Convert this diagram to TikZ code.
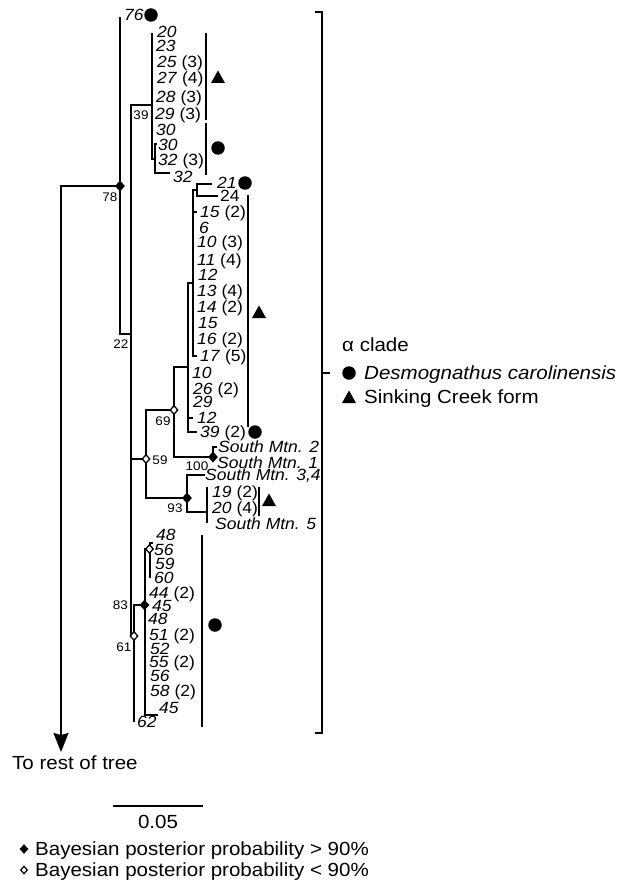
\documentclass[tikz,border=0pt]{standalone}
\usepackage{fontspec}
\setmainfont[FakeStretch=1.08]{Liberation Sans}
\usetikzlibrary{shapes.geometric,arrows.meta}
\tikzset{
  br/.style={line width=2pt, line join=miter},
  barline/.style={line width=2pt},
  tip/.style={font=\fontsize{16.2}{16}\selectfont, inner sep=0pt, anchor=west, text height=11.6pt, text depth=0pt},
  nl/.style={font=\fontsize{12.5}{12}\selectfont, inner sep=0pt, text height=8.95pt, text depth=0pt},
  lg/.style={font=\fontsize{19}{19}\selectfont, inner sep=0pt, anchor=west, text height=13.6pt, text depth=0pt},
  dot/.style={circle, fill, inner sep=0pt, minimum size=13.5pt},
  fdia/.style={diamond, fill, draw, inner sep=0pt, minimum width=9pt, minimum height=10pt, line width=0.6pt},
  odia/.style={diamond, fill=white, draw, inner sep=0pt, minimum width=8pt, minimum height=9pt, line width=1.3pt},
  tri/.pic={\fill (-7,6) -- (7,6) -- (0,-6.5) -- cycle;}
}
\begin{document}
\begin{tikzpicture}[x=1pt,y=-1pt]
\useasboundingbox (0,0) rectangle (617,880);
% internal nodes
\coordinate (root) at (61,186);
\coordinate (rest) at (61,752);
\coordinate (c78) at (120,186);
\coordinate (c22) at (131,334);
\coordinate (c39) at (152,105);
\coordinate (c39b) at (154.5,159);
\coordinate (c59) at (146,459);
\coordinate (c69) at (174,410);
\coordinate (cA) at (188,367);
\coordinate (cB) at (193,283);
\coordinate (cC) at (197,190);
\coordinate (c100) at (213,457);
\coordinate (c93) at (187,498);
\coordinate (cD) at (207,512);
\coordinate (c61) at (134,636);
\coordinate (c83) at (144.5,605);
\coordinate (c56) at (149.5,549);
% branches
\draw[br,-{Stealth[length=19pt,width=15pt,inset=2pt]}] (c78) -- (root) -- (rest);
\draw[br] (120,17) -- (120,334) -- (c22);
\draw[br] (c39) -- (131,105) -- (131,636) -- (c61);
\draw[br] (152,33) -- (152,159) -- (c39b);
\draw[br] (157,144) -- (154.5,144) -- (154.5,173) -- (170,173);
\draw[br] (131,459) -- (c59);
\draw[br] (c69) -- (146,410) -- (146,498) -- (c93);
\draw[br] (cA) -- (174,367) -- (174,457) -- (c100);
\draw[br] (cB) -- (188,283) -- (188,432) -- (197,432);
\draw[br] (188,418) -- (193,418);
\draw[br] (cC) -- (193,190) -- (193,356) -- (197,356);
\draw[br] (193,212) -- (197,212);
\draw[br] (212,184) -- (197,184) -- (197,196) -- (218,196);
\draw[br] (217,447) -- (213,447) -- (213,462);
\draw[br] (205,475) -- (187,475) -- (187,512) -- (cD);
\draw[br] (207,487) -- (207,523);
\draw[br] (c83) -- (134,605) -- (134,722);
\draw[br] (c56) -- (144.5,549) -- (144.5,715) -- (158,715);
\draw[br] (153,543) -- (149.5,543) -- (149.5,578);
% clade bars
\draw[barline] (206,33) -- (206,120);
\draw[barline] (206,123) -- (206,175);
\draw[barline] (248,195) -- (248,427);
\draw[barline] (259,487) -- (259,516);
\draw[barline] (202,535) -- (202,727);
% support diamonds
\node[fdia] (d78) at (c78) {};
\node[fdia] (d100) at (c100) {};
\node[fdia] (d93) at (c93) {};
\node[fdia] (d83) at (c83) {};
\node[odia] (d69) at (c69) {};
\node[odia] (d59) at (c59) {};
\node[odia] (d61) at (c61) {};
\node[odia] (d56) at (c56) {};
% support values
\node[nl] (v39) at (141,115) {39};
\node[nl] (v78) at (110,197) {78};
\node[nl] (v22) at (121,344) {22};
\node[nl] (v69) at (163,421) {69};
\node[nl] (v59) at (160,460) {59};
\node[nl] (v100) at (197,466) {100};
\node[nl] (v93) at (175,508) {93};
\node[nl] (v83) at (120.5,605) {83};
\node[nl] (v61) at (124,647) {61};
% markers
\node[dot] (m1) at (151,15) {};
\pic (m2) at (218,77) {tri};
\node[dot] (m3) at (218,148) {};
\node[dot] (m4) at (245,183) {};
\pic (m5) at (259,312) {tri};
\node[dot] (m6) at (255,432) {};
\pic (m7) at (269,500) {tri};
\node[dot] (m8) at (215,625) {};
% tips
\node[tip] (t1) at (124,15) {\textit{76}};
\node[tip] (t2) at (157,32) {\textit{20}};
\node[tip] (t3) at (156,46) {\textit{23}};
\node[tip] (t4) at (157,62) {\textit{25} (3)};
\node[tip] (t5) at (157,78) {\textit{27} (4)};
\node[tip] (t6) at (156,97) {\textit{28} (3)};
\node[tip] (t7) at (155,114) {\textit{29} (3)};
\node[tip] (t8) at (156,130) {\textit{30}};
\node[tip] (t9) at (158,145) {\textit{30}};
\node[tip] (t10) at (158,160) {\textit{32} (3)};
\node[tip] (t11) at (173,177) {\textit{32}};
\node[tip] (t12) at (217,183) {\textit{21}};
\node[tip] (t13) at (220,196) {24};
\node[tip] (t14) at (200,212) {\textit{15} (2)};
\node[tip] (t15) at (199,228) {\textit{6}};
\node[tip] (t16) at (197,242) {\textit{10} (3)};
\node[tip] (t17) at (197,260) {\textit{11} (4)};
\node[tip] (t18) at (198,275) {\textit{12}};
\node[tip] (t19) at (197,291) {\textit{13} (4)};
\node[tip] (t20) at (197,307) {\textit{14} (2)};
\node[tip] (t21) at (198,323) {\textit{15}};
\node[tip] (t22) at (197,339) {\textit{16} (2)};
\node[tip] (t23) at (200,356) {\textit{17} (5)};
\node[tip] (t24) at (192,373) {\textit{10}};
\node[tip] (t25) at (193,389) {\textit{26} (2)};
\node[tip] (t26) at (193,402) {\textit{29}};
\node[tip] (t27) at (197,418) {\textit{12}};
\node[tip] (t28) at (200,432) {\textit{39} (2)};
\node[tip] (t29) at (218,447) {\textit{South Mtn. 2}};
\node[tip] (t30) at (217,463) {\textit{South Mtn. 1}};
\node[tip] (t31) at (205,475) {\textit{South Mtn. 3,4}};
\node[tip] (t32) at (212,492) {\textit{19} (2)};
\node[tip] (t33) at (212,508) {\textit{20} (4)};
\node[tip] (t34) at (215,524) {\textit{South Mtn. 5}};
\node[tip] (t35) at (156,535) {\textit{48}};
\node[tip] (t36) at (154,550) {\textit{56}};
\node[tip] (t37) at (155,564) {\textit{59}};
\node[tip] (t38) at (154,578) {\textit{60}};
\node[tip] (t39) at (149,593) {\textit{44} (2)};
\node[tip] (t40) at (152,606) {\textit{45}};
\node[tip] (t41) at (148,619) {\textit{48}};
\node[tip] (t42) at (149,635) {\textit{51} (2)};
\node[tip] (t43) at (150,649) {\textit{52}};
\node[tip] (t44) at (149,662) {\textit{55} (2)};
\node[tip] (t45) at (150,676) {\textit{56}};
\node[tip] (t46) at (150,691) {\textit{58} (2)};
\node[tip] (t47) at (159,708) {\textit{45}};
\node[tip] (t48) at (137,722) {\textit{62}};
% clade bracket and legend
\draw[line width=2.5pt] (315,12) -- (322,12) -- (322,733) -- (315,733);
\draw[line width=2.5pt] (322,373) -- (330,373);
\node[lg] (la) at (342,345) {α clade};
\node[dot] (lm1) at (349,373) {};
\node[lg] (lb) at (364,373) {\textit{Desmognathus carolinensis}};
\pic (lm2) at (349,397) {tri};
\node[lg] (lc) at (364,397) {Sinking Creek form};
\node[lg] (rt) at (12,763) {To rest of tree};
\coordinate (sb1) at (113,806);
\coordinate (sb2) at (203,806);
\draw[line width=1.5pt] (sb1) -- (sb2);
\node[lg, anchor=center] (sbl) at (158,822) {0.05};
\node[fdia, minimum width=8pt, minimum height=9pt] (ld1) at (24,849) {};
\node[lg] (lt1) at (35,849) {Bayesian posterior probability > 90\%};
\node[odia, minimum width=7pt, minimum height=8pt, line width=1.2pt] (ld2) at (24,870) {};
\node[lg] (lt2) at (35,870) {Bayesian posterior probability < 90\%};
\end{tikzpicture}
\end{document}
